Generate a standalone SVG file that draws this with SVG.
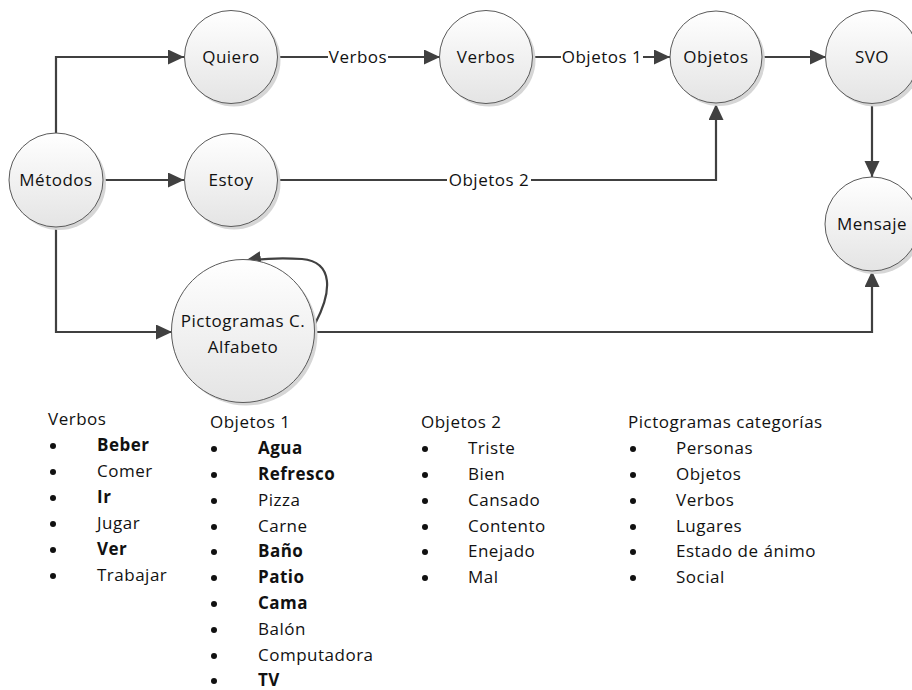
<svg xmlns="http://www.w3.org/2000/svg" width="912" height="690" viewBox="0 0 912 690">
  <style>
    .node-body { fill: url(#nodeFill); stroke: #5a5a5a; stroke-width: 1; }
    .node-shadow { fill: #d6d6d6; }
    .node-label { font-family: "Open Sans", "Liberation Sans", sans-serif; font-size: 17px; letter-spacing: 0.5px; fill: #111; text-anchor: middle; }
    .edge { fill: none; stroke: #404040; stroke-width: 2.2; }
    .edge-label { font-family: "Open Sans", "Liberation Sans", sans-serif; font-size: 17px; letter-spacing: 0.5px; fill: #111; text-anchor: middle; }
    .label-bg { fill: #ffffff; }
    .list-text { font-family: "Open Sans", "Liberation Sans", sans-serif; font-size: 17px; letter-spacing: 0.5px; fill: #111; }
    .bold { font-weight: bold; }
    .bullet { fill: #111; }
  </style>
  <defs>
    <linearGradient id="nodeFill" x1="0" y1="0" x2="0" y2="1">
      <stop offset="0" stop-color="#ffffff"/>
      <stop offset="1" stop-color="#e4e4e4"/>
    </linearGradient>
    <marker id="arrow" markerUnits="userSpaceOnUse" markerWidth="18" markerHeight="16" refX="16" refY="7.5" orient="auto">
      <path d="M0,0 L16,7.5 L0,15 z" fill="#404040"/>
    </marker>
  </defs>

  <rect width="912" height="690" fill="#ffffff"/>

  <!-- connectors -->
  <g id="connectors">
    <path class="edge" d="M56,133 V57 H184" marker-end="url(#arrow)"/>
    <path class="edge" d="M104,180 H184" marker-end="url(#arrow)"/>
    <path class="edge" d="M56,227 V332 H172" marker-end="url(#arrow)"/>
    <path class="edge" d="M278,57 H440" marker-end="url(#arrow)"/>
    <path class="edge" d="M532,57 H670" marker-end="url(#arrow)"/>
    <path class="edge" d="M762,57 H826" marker-end="url(#arrow)"/>
    <path class="edge" d="M872,103 V177" marker-end="url(#arrow)"/>
    <path class="edge" d="M278,180 H716 V104" marker-end="url(#arrow)"/>
    <path class="edge" d="M315,332 H872 V271" marker-end="url(#arrow)"/>
    <path class="edge" d="M315,324 C332,292 334,262 302,259 C288,258 266,258 245,261" marker-end="url(#arrow)"/>

    <rect class="label-bg" x="328" y="47" width="60" height="20"/>
    <text class="edge-label" x="358" y="63">Verbos</text>
    <rect class="label-bg" x="561" y="47" width="82" height="20"/>
    <text class="edge-label" x="602" y="63">Objetos 1</text>
    <rect class="label-bg" x="447" y="170" width="84" height="20"/>
    <text class="edge-label" x="489" y="186">Objetos 2</text>
  </g>

  <!-- nodes -->
  <g id="node-metodos">
    <circle class="node-shadow" cx="59" cy="183" r="47"/>
    <circle class="node-body" cx="56" cy="180" r="47"/>
    <text class="node-label" x="56" y="186">Métodos</text>
  </g>
  <g id="node-quiero">
    <circle class="node-shadow" cx="234" cy="60" r="46.5"/>
    <circle class="node-body" cx="231" cy="57" r="46.5"/>
    <text class="node-label" x="231" y="63">Quiero</text>
  </g>
  <g id="node-estoy">
    <circle class="node-shadow" cx="234" cy="183" r="46.5"/>
    <circle class="node-body" cx="231" cy="180" r="46.5"/>
    <text class="node-label" x="231" y="186">Estoy</text>
  </g>
  <g id="node-verbos">
    <circle class="node-shadow" cx="489" cy="60" r="46.5"/>
    <circle class="node-body" cx="486" cy="57" r="46.5"/>
    <text class="node-label" x="486" y="63">Verbos</text>
  </g>
  <g id="node-objetos">
    <circle class="node-shadow" cx="719" cy="60" r="46"/>
    <circle class="node-body" cx="716" cy="57" r="46"/>
    <text class="node-label" x="716" y="63">Objetos</text>
  </g>
  <g id="node-svo">
    <circle class="node-shadow" cx="875" cy="60" r="46.5"/>
    <circle class="node-body" cx="872" cy="57" r="46.5"/>
    <text class="node-label" x="872" y="63">SVO</text>
  </g>
  <g id="node-mensaje">
    <circle class="node-shadow" cx="875" cy="227" r="47"/>
    <circle class="node-body" cx="872" cy="224" r="47"/>
    <text class="node-label" x="872" y="230">Mensaje</text>
  </g>
  <g id="node-pictogramas">
    <circle class="node-shadow" cx="246" cy="334" r="71.5"/>
    <circle class="node-body" cx="243" cy="331" r="71.5"/>
    <text class="node-label" x="243" y="327">Pictogramas C.</text>
    <text class="node-label" x="243" y="353">Alfabeto</text>
  </g>

  <!-- word lists -->
  <g id="list-verbos">
    <text class="list-text" x="48" y="425">Verbos</text>
    <g class="bullet">
      <circle cx="53" cy="446" r="3"/><circle cx="53" cy="472" r="3"/><circle cx="53" cy="498" r="3"/>
      <circle cx="53" cy="524" r="3"/><circle cx="53" cy="550" r="3"/><circle cx="53" cy="576" r="3"/>
    </g>
    <text class="list-text bold" x="97" y="451">Beber</text>
    <text class="list-text" x="97" y="477">Comer</text>
    <text class="list-text bold" x="97" y="503">Ir</text>
    <text class="list-text" x="97" y="529">Jugar</text>
    <text class="list-text bold" x="97" y="555">Ver</text>
    <text class="list-text" x="97" y="581">Trabajar</text>
  </g>

  <g id="list-objetos1">
    <text class="list-text" x="210" y="428">Objetos 1</text>
    <g class="bullet">
      <circle cx="214" cy="449" r="3"/><circle cx="214" cy="475" r="3"/><circle cx="214" cy="501" r="3"/>
      <circle cx="214" cy="527" r="3"/><circle cx="214" cy="552" r="3"/><circle cx="214" cy="578" r="3"/>
      <circle cx="214" cy="604" r="3"/><circle cx="214" cy="630" r="3"/><circle cx="214" cy="656" r="3"/>
      <circle cx="214" cy="681" r="3"/>
    </g>
    <text class="list-text bold" x="258" y="454">Agua</text>
    <text class="list-text bold" x="258" y="480">Refresco</text>
    <text class="list-text" x="258" y="506">Pizza</text>
    <text class="list-text" x="258" y="532">Carne</text>
    <text class="list-text bold" x="258" y="557">Baño</text>
    <text class="list-text bold" x="258" y="583">Patio</text>
    <text class="list-text bold" x="258" y="609">Cama</text>
    <text class="list-text" x="258" y="635">Balón</text>
    <text class="list-text" x="258" y="661">Computadora</text>
    <text class="list-text bold" x="258" y="686">TV</text>
  </g>

  <g id="list-objetos2">
    <text class="list-text" x="421" y="428">Objetos 2</text>
    <g class="bullet">
      <circle cx="425" cy="449" r="3"/><circle cx="425" cy="475" r="3"/><circle cx="425" cy="501" r="3"/>
      <circle cx="425" cy="527" r="3"/><circle cx="425" cy="552" r="3"/><circle cx="425" cy="578" r="3"/>
    </g>
    <text class="list-text" x="468" y="454">Triste</text>
    <text class="list-text" x="468" y="480">Bien</text>
    <text class="list-text" x="468" y="506">Cansado</text>
    <text class="list-text" x="468" y="532">Contento</text>
    <text class="list-text" x="468" y="557">Enejado</text>
    <text class="list-text" x="468" y="583">Mal</text>
  </g>

  <g id="list-pictogramas">
    <text class="list-text" x="628" y="428">Pictogramas categorías</text>
    <g class="bullet">
      <circle cx="633" cy="449" r="3"/><circle cx="633" cy="475" r="3"/><circle cx="633" cy="501" r="3"/>
      <circle cx="633" cy="527" r="3"/><circle cx="633" cy="552" r="3"/><circle cx="633" cy="578" r="3"/>
    </g>
    <text class="list-text" x="676" y="454">Personas</text>
    <text class="list-text" x="676" y="480">Objetos</text>
    <text class="list-text" x="676" y="506">Verbos</text>
    <text class="list-text" x="676" y="532">Lugares</text>
    <text class="list-text" x="676" y="557">Estado de ánimo</text>
    <text class="list-text" x="676" y="583">Social</text>
  </g>
</svg>
